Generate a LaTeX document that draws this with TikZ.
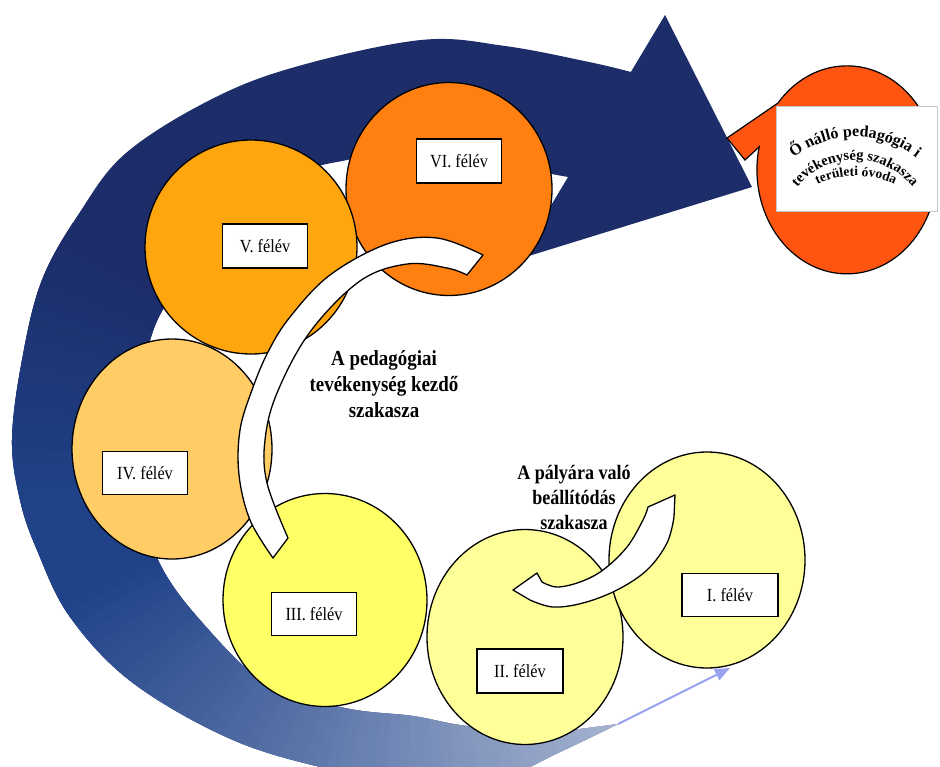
\documentclass[tikz,border=0pt]{standalone}
\usepackage{fontspec}
\setmainfont{Liberation Serif}
\newfontfamily\narrowfont[FakeStretch=0.88]{Liberation Serif}
\usepackage{tikz}
\usetikzlibrary{shapes.geometric,arrows.meta,decorations.text}
\definecolor{bandNavy}{HTML}{1C2D6A}
\definecolor{bandBlue}{HTML}{1F4288}
\definecolor{bandLight}{HTML}{B0BCD6}
\definecolor{semI}{HTML}{FFFF99}
\definecolor{semII}{HTML}{FFFF99}
\definecolor{semIII}{HTML}{FFFF66}
\definecolor{semIV}{HTML}{FFCC66}
\definecolor{semV}{HTML}{FFA50D}
\definecolor{semVI}{HTML}{FF7F11}
\definecolor{goalRed}{HTML}{FF5511}
\definecolor{arrowBlue}{HTML}{9AA2F2}
\newcommand\wordartA{\bfseries\fontsize{16}{16}\selectfont}
\newcommand\wordartB{\bfseries\fontsize{14.5}{14.5}\selectfont}
\newcommand\wordartC{\bfseries\fontsize{13.5}{13.5}\selectfont}
\tikzset{
  sem/.style={ellipse, draw=black, line width=1.3pt, inner sep=0pt, outer sep=0pt},
  box/.style={rectangle, draw=black, line width=1.2pt, fill=white, inner sep=0pt,
    minimum width=85pt, minimum height=44pt, font=\narrowfont\fontsize{18.5}{20}\selectfont},
  lbl/.style={align=center, font=\narrowfont\bfseries\fontsize{21.5}{26}\selectfont},
  swoosh/.style={fill=white, draw=black, line width=1.3pt, line join=round},
  callout/.style={fill=goalRed, draw=black, line width=1.2pt},
  goalbox/.style={rectangle, fill=white, draw=black!22, line width=0.8pt},
  thinarrow/.style={draw=arrowBlue, line width=2pt, -{Triangle[length=15pt,width=12pt]}}
}
\begin{document}
\begin{tikzpicture}[x=1pt, y=-1pt]
  \useasboundingbox (0,0) rectangle (940,766);
  \fill[white] (0,0) rectangle (940,766);
  \coordinate (C) at (420,440);

  % big swirl arrow
  \begin{scope}
    \clip plot[smooth, tension=0.6] coordinates {(631,72) (589,62) (505,46) (421,40)
        (295,67) (210,100) (126,153) (80,212) (42,280) (22,360) (12,440) (20,500)
        (37,550) (70,617) (133,683) (233,740) (333,770) (420,785) (500,778) (560,752) (618,724)}
      -- plot[smooth, tension=0.6] coordinates {(580,729) (520,731) (460,725) (413,716)
        (345,708) (267,684) (200,620) (159,562) (142,500) (137,440) (142,390) (151,337)
        (171,296) (215,235) (293,177) (347,160) (420,150) (495,158) (543,172) (575,178)}
      -- cycle;
    \fill[bandNavy] (0,0) rectangle (940,800);
    \foreach \a in {36,38,...,208}{
      \pgfmathtruncatemacro\p{max(0,min(100,(\a-45)/1.1))}
      \pgfmathtruncatemacro\q{max(0,min(100,(208-\a)/0.38))}
      \fill[bandBlue!\q!bandNavy!\p!bandLight] (C) -- +(\a:900) -- +(\a+4:900) -- cycle;
    }
  \end{scope}
  \fill[bandNavy] (665,15) -- (752,187) -- (519,259) -- cycle;

  % goal
  \filldraw[callout] (727,138) -- (778,103)
    arc[start angle=220, end angle=552.8, x radius=90, y radius=104] -- (745,160) -- cycle;
  \node[goalbox, minimum width=161pt, minimum height=105pt] (goal) at (856.5,158.5) {};
  \path[decorate, decoration={text along path, text align=center,
      text={|\wordartA|Ő nálló pedagógia i}}]
    (855,237) ++(-160:100) arc[start angle=-160, end angle=-20, radius=100];
  \path[decorate, decoration={text along path, text align=center,
      text={|\wordartB|tevékenység szakasza}}]
    (855,235) ++(-175:75) arc[start angle=-175, end angle=-5, radius=75];
  \path[decorate, decoration={text along path, text align=center,
      text={|\wordartC|területi óvoda}}]
    (856,266) ++(-140:90) arc[start angle=-140, end angle=-40, radius=90];

  % semesters
  \node[sem, fill=semVI, minimum width=206pt, minimum height=213pt] (s6) at (449,189) {};
  \node[sem, fill=semV, minimum width=212pt, minimum height=214pt] (s5) at (251,247) {};
  \node[sem, fill=semIV, minimum width=200pt, minimum height=220pt] (s4) at (172,449) {};
  \node[sem, fill=semIII, minimum width=204pt, minimum height=213pt] (s3) at (325,600) {};
  \node[sem, fill=semII, minimum width=196pt, minimum height=215pt] (s2) at (525,637) {};
  \node[sem, fill=semI, minimum width=196pt, minimum height=216pt] (s1) at (707,560) {};

  \node[box] (b6) at (459,161) {VI. félév};
  \node[box] (b5) at (265,246) {V. félév};
  \node[box, minimum height=43pt] (b4) at (145,473) {IV. félév};
  \node[box, minimum height=43pt] (b3) at (314,614) {III. félév};
  \node[box, minimum width=86pt] (b2) at (520,671) {II. félév};
  \node[box, minimum width=96pt, minimum height=43pt] (b1) at (730,595) {I. félév};

  % curved arrows
  \filldraw[swoosh] plot[smooth, tension=0.6] coordinates {(273,558) (250,520) (239,475)
      (240,430) (252,390) (268,352) (290,317) (330,275) (387,244) (437,238) (483,255)}
    -- plot[smooth, tension=0.6] coordinates {(467,275) (447,268) (407,264) (360,281)
      (310,332) (277,393) (265,440) (267,483) (288,538)} -- cycle;
  \filldraw[swoosh] (513,590) -- (537,573)
    -- plot[smooth, tension=0.6] coordinates {(542,582) (557,587) (580,582) (603,570)
      (627,547) (643,520) (648,507)}
    -- (675,495)
    -- plot[smooth, tension=0.6] coordinates {(674,517) (667,543) (647,570) (617,590)
      (583,603) (553,607) (530,600)} -- cycle;

  \node[lbl] (kezdo) at (384,384) {A pedagógiai\\tevékenység kezdő\\szakasza};
  \node[lbl, font=\narrowfont\bfseries\fontsize{20.5}{25}\selectfont] (palya) at (574,497)
    {A pályára való\\beállítódás\\szakasza};

  \coordinate (tail) at (618,724);
  \coordinate (tip) at (730,668);
  \draw[thinarrow] (tail) -- (tip);
\end{tikzpicture}
\end{document}
